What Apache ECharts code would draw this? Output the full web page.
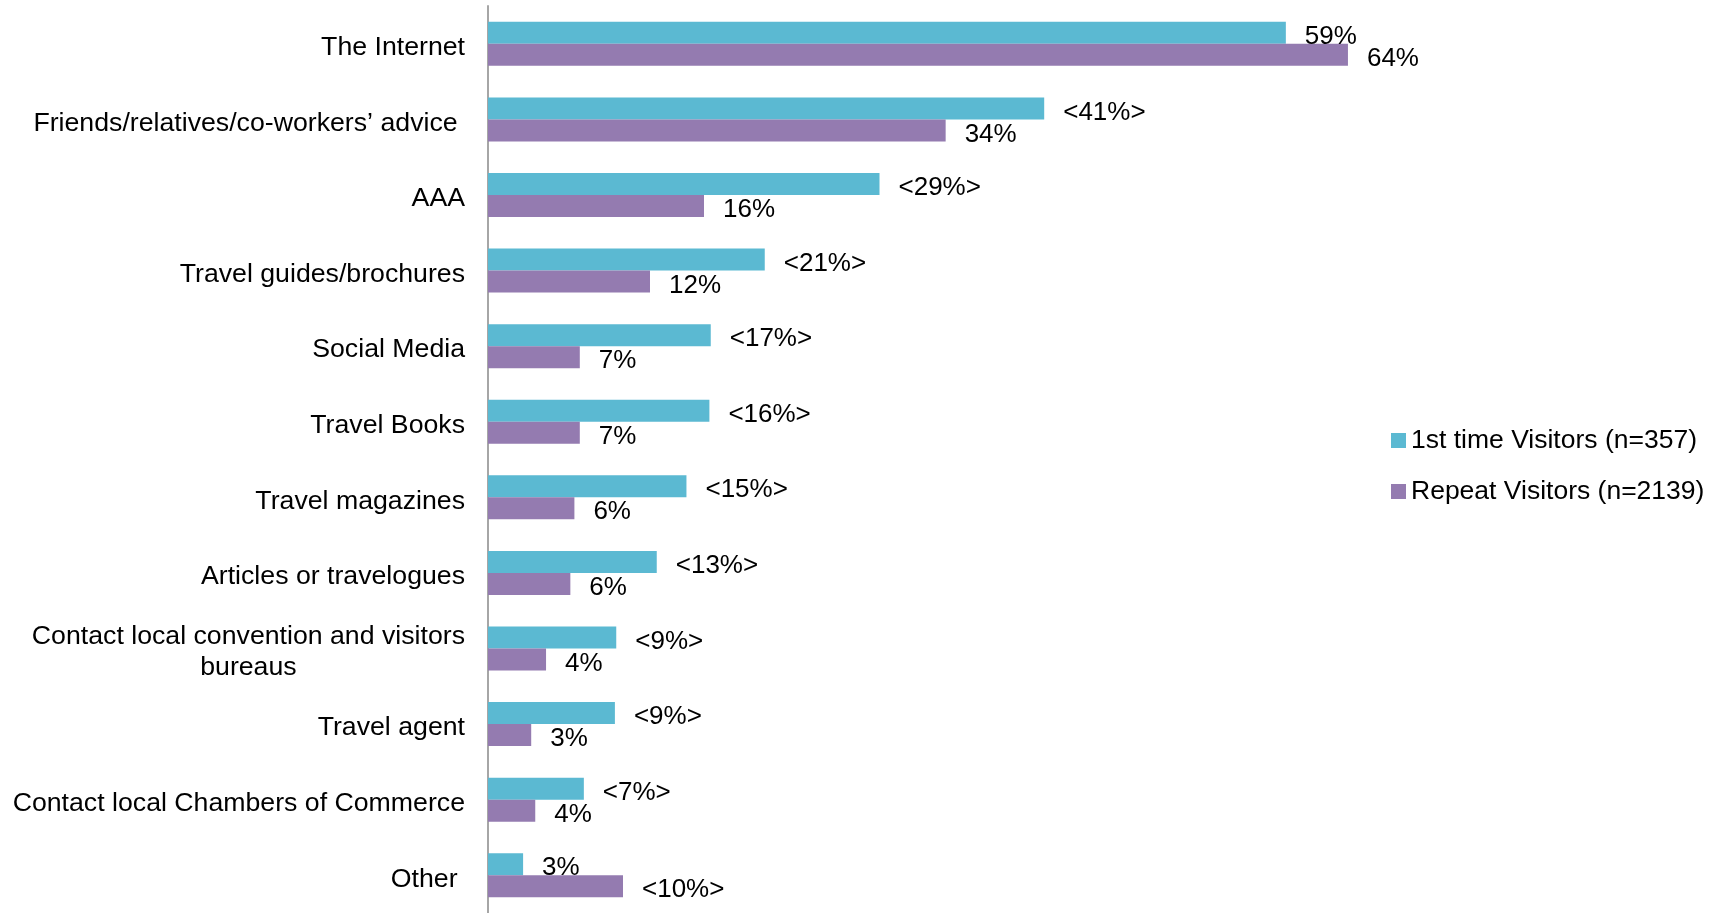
<!DOCTYPE html>
<html>
<head>
<meta charset="utf-8">
<script src="https://cdn.jsdelivr.net/npm/echarts@6/dist/echarts.min.js"></script>
<style>
  html, body { margin: 0; padding: 0; background: #fff; }
  #chart { width: 1721px; height: 913px; }
</style>
</head>
<body>
<div id="chart"></div>
<script>
// categories top to bottom
var categories = [
  'The Internet',
  'Friends/relatives/co-workers\u2019 advice ',
  'AAA',
  'Travel guides/brochures',
  'Social Media',
  'Travel Books',
  'Travel magazines',
  'Articles or travelogues',
  'Contact local convention and visitors\nbureaus',
  'Travel agent',
  'Contact local Chambers of Commerce',
  'Other '
];

// bar lengths (%)
var firstTime = [59.1, 41.2, 29, 20.5, 16.5, 16.4, 14.7, 12.5, 9.5, 9.4, 7.1, 2.6];
var repeatVis = [63.7, 33.9, 16, 12, 6.8, 6.8, 6.4, 6.1, 4.3, 3.2, 3.5, 10];

// printed labels
var firstLabels = ['59%', '<41%>', '<29%>', '<21%>', '<17%>', '<16%>', '<15%>', '<13%>', '<9%>', '<9%>', '<7%>', '3%'];
var repeatLabels = ['64%', '34%', '16%', '12%', '7%', '7%', '6%', '6%', '4%', '3%', '4%', '<10%>'];

var seriesNames = ['1st time Visitors (n=357)', 'Repeat Visitors (n=2139)'];

var FONT = '"Liberation Sans", Arial, sans-serif';

var chart = echarts.init(document.getElementById('chart'));

function barLabel(labels) {
  return {
    show: true,
    position: 'right',
    distance: 19,
    offset: [0, 4],
    color: '#000',
    fontSize: 26,
    fontFamily: FONT,
    formatter: function (p) { return labels[p.dataIndex]; }
  };
}

chart.setOption({
  animation: false,
  grid: {
    left: 488,
    top: 6,
    width: 1080,
    height: 914
  },
  legend: {
    orient: 'vertical',
    left: 1386,
    top: 422,
    icon: 'rect',
    itemWidth: 15,
    itemHeight: 15,
    itemGap: 24,
    data: seriesNames,
    textStyle: {
      color: '#000',
      fontSize: 26.5,
      lineHeight: 26.5,
      fontFamily: FONT
    }
  },
  xAxis: {
    type: 'value',
    min: 0,
    max: 80,
    show: false
  },
  yAxis: {
    type: 'category',
    inverse: true,
    data: categories,
    axisLine: { lineStyle: { color: '#a6a6a6', width: 2 } },
    axisTick: { length: 8, lineStyle: { color: '#a6a6a6', width: 2 } },
    axisLabel: {
      margin: 23,
      padding: [8, 0, 0, 0],
      color: '#000',
      fontSize: 26.7,
      fontFamily: FONT,
      formatter: function (v) {
        return v.split('\n').map(function (s) { return '{c|' + s + '}'; }).join('\n');
      },
      rich: {
        c: { align: 'center', fontSize: 26.7, lineHeight: 31, color: '#000', fontFamily: FONT }
      }
    }
  },
  series: [
    {
      name: seriesNames[0],
      type: 'bar',
      data: firstTime,
      barWidth: 22,
      barGap: '0%',
      itemStyle: { color: '#5bb9d2' },
      label: barLabel(firstLabels)
    },
    {
      name: seriesNames[1],
      type: 'bar',
      data: repeatVis,
      barWidth: 22,
      itemStyle: { color: '#947bb0' },
      label: barLabel(repeatLabels)
    }
  ]
});
</script>
</body>
</html>
